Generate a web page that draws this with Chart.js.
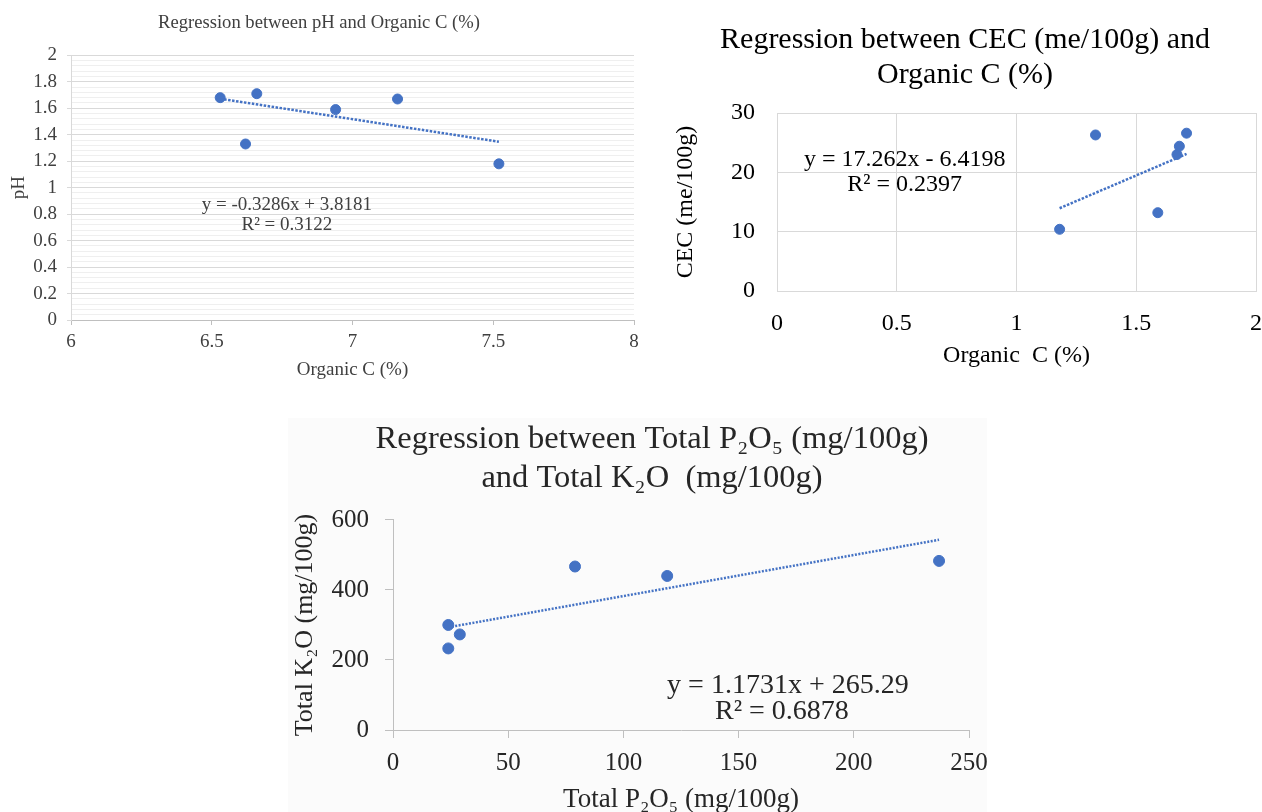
<!DOCTYPE html>
<html>
<head>
<meta charset="utf-8">
<script src="https://cdn.jsdelivr.net/npm/chart.js@4.4.1/dist/chart.umd.min.js"></script>
<style>
  body { margin: 0; background: #fff; width: 1262px; height: 812px; overflow: hidden; position: relative; }
  canvas, .bg { position: absolute; }
</style>
</head>
<body>
<div class="bg" style="left:288px;top:418px;width:699px;height:394px;background:#fbfbfb"></div>
<canvas id="ph" width="660" height="390" style="left:0;top:0"></canvas>
<canvas id="cec" width="602" height="390" style="left:660px;top:0"></canvas>
<canvas id="pk" width="760" height="417" style="left:280px;top:395px"></canvas>
<script>
// pH vs Organic C
const phOrgC = [6.53, 6.62, 6.66, 6.94, 7.16, 7.52];
const phVals = [1.68, 1.33, 1.71, 1.59, 1.67, 1.18];
const phTrendX = [6.53, 7.52];
const phTrendY = [1.672, 1.347];
const phEq = ["y = -0.3286x + 3.8181", "R² = 0.3122"];
const phEqX = [6.767, 6.767];
const phEqY = [0.868, 0.717];

// CEC vs Organic C
const cecOrgC = [1.18, 1.33, 1.59, 1.67, 1.68, 1.71];
const cecVals = [10.4, 26.3, 13.2, 23.0, 24.4, 26.6];
const cecTrendX = [1.18, 1.71];
const cecTrendY = [13.95, 23.10];
const cecEq = ["y = 17.262x - 6.4198", "R² = 0.2397"];
const cecEqX = [0.533, 0.533];
const cecEqY = [22.1, 17.9];

// K2O vs P2O5
const p2o5 = [24, 24, 29, 79, 119, 237];
const k2o = [300, 233, 273, 467, 440, 483];
const pkTrendX = [24, 237];
const pkTrendY = [293.4, 543.3];
const pkEq = ["y = 1.1731x + 265.29", "R² = 0.6878"];
const pkEqX = [171.4, 168.8];
const pkEqY = [125.7, 51.4];

const serif = "'Liberation Serif', 'Times New Roman', serif";
const blue = '#4472c4';

function pts(xs, ys) {
  return xs.map((x, i) => ({ x: x, y: ys[i] }));
}

// equation text drawn at data coordinates
function eqLabel(lines, xs, ys, size, color) {
  return {
    id: 'eq',
    afterDatasetsDraw(chart) {
      const ctx = chart.ctx;
      ctx.save();
      ctx.font = size + 'px ' + serif;
      ctx.fillStyle = color;
      ctx.textAlign = 'center';
      ctx.textBaseline = 'middle';
      lines.forEach((t, i) => {
        ctx.fillText(t, chart.scales.x.getPixelForValue(xs[i]), chart.scales.y.getPixelForValue(ys[i]));
      });
      ctx.restore();
    }
  };
}

function datasets(xs, ys, tx, ty, r, dash) {
  return [
    { data: pts(xs, ys), backgroundColor: blue, borderColor: blue, pointRadius: r, pointHoverRadius: r },
    { data: pts(tx, ty), showLine: true, borderColor: blue, borderWidth: 2.5, borderDash: dash, pointRadius: 0, fill: false }
  ];
}

// fixed axis box size, no extra label overflow padding
function fixW(w) {
  return s => { s.width = w; s.paddingTop = 0; s.paddingBottom = 0; };
}
function fixH(h) {
  return s => { s.height = h; s.paddingLeft = 0; s.paddingRight = 0; };
}

const isMajor = v => Math.round(v * 100) % 20 === 0;
const plain = v => String(v);

new Chart(document.getElementById('ph'), {
  type: 'scatter',
  data: { datasets: datasets(phOrgC, phVals, phTrendX, phTrendY, 5, [2.5, 1.5]) },
  options: {
    responsive: false,
    animation: false,
    layout: { padding: { left: 4, right: 26, top: 0, bottom: 0 } },
    plugins: {
      legend: { display: false },
      tooltip: { enabled: false },
      title: {
        display: true, text: 'Regression between pH and Organic C (%)', color: '#404040',
        font: { family: serif, size: 18.6, weight: 'normal' }, padding: { top: 11.5, bottom: 21.5 }
      }
    },
    scales: {
      x: {
        min: 6, max: 8,
        ticks: { stepSize: 0.5, color: '#404040', font: { family: serif, size: 19 }, padding: 6, callback: plain },
        grid: { drawOnChartArea: false, color: '#bfbfbf', tickLength: 5 },
        border: { color: '#bfbfbf' },
        title: { display: true, text: 'Organic C (%)', color: '#404040', font: { family: serif, size: 19 }, padding: { top: 0, bottom: 9 } },
        afterFit: fixH(70)
      },
      y: {
        min: 0, max: 2,
        ticks: {
          stepSize: 0.04, autoSkip: false, color: '#404040', font: { family: serif, size: 19 }, padding: 10,
          callback: v => isMajor(v) ? String(Math.round(v * 100) / 100) : ''
        },
        grid: {
          color: c => isMajor(c.tick.value) ? '#d9d9d9' : '#efefef',
          tickColor: c => isMajor(c.tick.value) ? '#d9d9d9' : 'rgba(0,0,0,0)',
          tickLength: 4
        },
        border: { color: '#d9d9d9' },
        title: { display: true, text: 'pH', color: '#404040', font: { family: serif, size: 19 }, padding: { top: 4, bottom: 0 } },
        afterFit: fixW(67)
      }
    }
  },
  plugins: [eqLabel(phEq, phEqX, phEqY, 19, '#404040')]
});

new Chart(document.getElementById('cec'), {
  type: 'scatter',
  data: { datasets: datasets(cecOrgC, cecVals, cecTrendX, cecTrendY, 5, [2.5, 1.5]) },
  options: {
    responsive: false,
    animation: false,
    layout: { padding: { left: 13, right: 5, top: 0, bottom: 0 } },
    plugins: {
      legend: { display: false },
      tooltip: { enabled: false },
      title: {
        display: true, text: ['Regression between CEC (me/100g) and', 'Organic C (%)'], color: '#000',
        font: { family: serif, size: 30, weight: 'normal', lineHeight: 1.1667 }, padding: { top: 22.5, bottom: 20.5 }
      }
    },
    scales: {
      x: {
        min: 0, max: 2,
        ticks: { stepSize: 0.5, color: '#000', font: { family: serif, size: 24 }, padding: 18, callback: plain },
        grid: { color: '#d9d9d9', drawTicks: false },
        border: { color: '#d9d9d9' },
        title: { display: true, text: 'Organic  C (%)', color: '#000', font: { family: serif, size: 24 }, padding: { top: 0, bottom: 20 } },
        afterFit: fixH(99)
      },
      y: {
        min: 0, max: 30,
        ticks: { stepSize: 10, color: '#000', font: { family: serif, size: 24 }, padding: 22 },
        grid: { color: '#d9d9d9', drawTicks: false },
        border: { color: '#d9d9d9' },
        title: { display: true, text: 'CEC (me/100g)', color: '#000', font: { family: serif, size: 24, lineHeight: 1 }, padding: { top: 1, bottom: 0 } },
        afterFit: fixW(104)
      }
    }
  },
  plugins: [eqLabel(cecEq, cecEqX, cecEqY, 24, '#000')]
});

new Chart(document.getElementById('pk'), {
  type: 'scatter',
  data: { datasets: datasets(p2o5, k2o, pkTrendX, pkTrendY, 5.5, [2, 1.5]) },
  options: {
    responsive: false,
    animation: false,
    layout: { padding: { left: 0, right: 16, top: 0, bottom: 0 } },
    plugins: {
      legend: { display: false },
      tooltip: { enabled: false },
      title: {
        display: true, text: ['Regression between Total P₂O₅ (mg/100g)', 'and Total K₂O  (mg/100g)'], color: '#262626',
        font: { family: serif, size: 32.5, weight: 'normal', lineHeight: 1.23 }, padding: { top: 24, bottom: 21 }
      }
    },
    scales: {
      x: {
        min: 0, max: 250,
        ticks: { stepSize: 50, color: '#262626', font: { family: serif, size: 25 }, padding: 10 },
        grid: { drawOnChartArea: false, color: '#bfbfbf', tickLength: 8 },
        border: { color: '#bfbfbf' },
        title: { display: true, text: 'Total P₂O₅ (mg/100g)', color: '#262626', font: { family: serif, size: 27, lineHeight: 1 }, padding: { top: 0, bottom: -1.5 } },
        afterFit: fixH(82)
      },
      y: {
        min: 0, max: 600,
        ticks: { stepSize: 200, color: '#262626', font: { family: serif, size: 25 }, padding: 16 },
        grid: { drawOnChartArea: false, color: '#bfbfbf', tickLength: 8 },
        border: { color: '#bfbfbf' },
        title: { display: true, text: 'Total K₂O (mg/100g)', color: '#262626', font: { family: serif, size: 26 }, padding: { top: 9.4, bottom: 0 } },
        afterFit: fixW(113)
      },
      // empty right box so the title centres like the original
      pad: {
        type: 'linear', position: 'right', display: true,
        ticks: { display: false }, grid: { display: false }, border: { display: false },
        afterFit: fixW(55)
      }
    }
  },
  plugins: [eqLabel(pkEq, pkEqX, pkEqY, 28, '#262626')]
});
</script>
</body>
</html>
